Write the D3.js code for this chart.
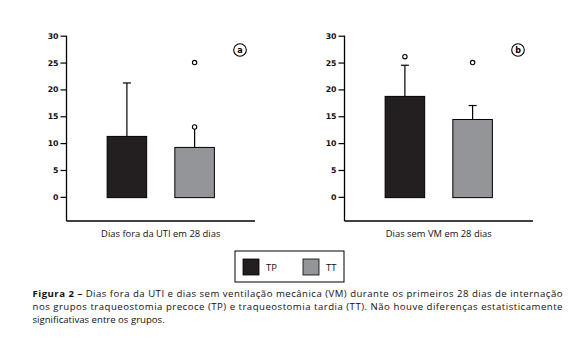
<!DOCTYPE html>
<html><head><meta charset="utf-8">
<script src="https://cdn.jsdelivr.net/npm/d3@7"></script>
<style>
body{margin:0;background:#fff;}
svg{display:block;}
</style></head>
<body>
<svg id="chart" width="585" height="360"></svg>
<script>
// ---- data ----
const groups = ["TP", "TT"];
const groupColors = ["#231f20", "#939598"];
const panelTitles = ["Dias fora da UTI em 28 dias", "Dias sem VM em 28 dias"];
const panelTags = ["a", "b"];
const yTicks = [0, 5, 10, 15, 20, 25, 30];
const meansA = [11.25, 9.2];
const errTopA = [21.2, 13.0];
const capsA = [true, false];
const outliersA = [[], [25, 13]];
const meansB = [18.7, 14.4];
const errTopB = [24.5, 17.0];
const capsB = [true, true];
const outliersB = [[26.1], [25]];
const captionBold = "Figura 2 – ";
const captionLines = [
  "Dias fora da UTI e dias sem ventilação mecânica (VM) durante os primeiros 28 dias de internação",
  "nos grupos traqueostomia precoce (TP) e traqueostomia tardia (TT). Não houve diferenças estatisticamente",
  "significativas entre os grupos."
];

const panels = [
  {title: panelTitles[0], tag: panelTags[0], means: meansA, err: errTopA, caps: capsA, outliers: outliersA, x0: 66.5, x1: 255},
  {title: panelTitles[1], tag: panelTags[1], means: meansB, err: errTopB, caps: capsB, outliers: outliersB, x0: 344.5, x1: 533}
];

const svg = d3.select("#chart");
const y = d3.scaleLinear().domain([-4.5, 30]).range([221, 35.7]);
const tickFont = "'DejaVu Sans', sans-serif";
const textFont = "'Open Sans', sans-serif";

panels.forEach(p => {
  const g = svg.append("g");
  const x = d3.scaleBand().domain(groups).range([p.x0, p.x1]).paddingInner(0.416).paddingOuter(0.6);
  const ax = g.append("g").attr("transform", `translate(${p.x0},0)`)
    .call(d3.axisLeft(y).tickValues(yTicks).tickSize(6).tickPadding(2).tickFormat(d3.format("d")));
  ax.select(".domain").attr("d", `M0,${y(30)}V${y(-4.5)}`).attr("stroke", "#000").attr("stroke-width", 1.3);
  ax.selectAll(".tick line").attr("stroke", "#000").attr("stroke-width", 1.2);
  ax.selectAll(".tick text").attr("font-family", tickFont).attr("font-weight", "bold").attr("font-size", 7.8).attr("fill", "#111");
  g.append("line").attr("x1", p.x0).attr("x2", p.x1).attr("y1", y(-4.5)).attr("y2", y(-4.5))
    .attr("stroke", "#000").attr("stroke-width", 1.3);
  groups.forEach((gr, i) => {
    const cx = x(gr) + x.bandwidth() / 2;
    g.append("line").attr("x1", cx).attr("x2", cx).attr("y1", y(p.means[i])).attr("y2", y(p.err[i]))
      .attr("stroke", "#000").attr("stroke-width", 1.2);
    if (p.caps[i]) {
      g.append("line").attr("x1", cx - 4).attr("x2", cx + 4).attr("y1", y(p.err[i])).attr("y2", y(p.err[i]))
        .attr("stroke", "#000").attr("stroke-width", 1.2);
    }
  });
  g.selectAll("rect.bar").data(groups).join("rect")
    .attr("x", d => x(d)).attr("width", x.bandwidth())
    .attr("y", (d, i) => y(p.means[i])).attr("height", (d, i) => y(-0.15) - y(p.means[i]))
    .attr("fill", (d, i) => groupColors[i]).attr("stroke", "#000").attr("stroke-width", 1);
  groups.forEach((gr, i) => {
    const cx = x(gr) + x.bandwidth() / 2;
    p.outliers[i].forEach(v => {
      g.append("circle").attr("cx", cx).attr("cy", y(v)).attr("r", 2.2)
        .attr("fill", "#fff").attr("stroke", "#000").attr("stroke-width", 1.1);
    });
  });
  const tx = p.x1 - 15, ty = 50;
  g.append("circle").attr("cx", tx).attr("cy", ty).attr("r", 6.3).attr("fill", "#fff").attr("stroke", "#000").attr("stroke-width", 1.1);
  g.append("text").attr("x", tx).attr("y", ty + 2.8).attr("text-anchor", "middle")
    .attr("font-family", tickFont).attr("font-weight", "bold").attr("font-size", 8).text(p.tag);
  g.append("text").attr("x", (p.x0 + p.x1) / 2).attr("y", 237).attr("text-anchor", "middle")
    .attr("font-family", textFont).attr("font-size", 9.4).attr("fill", "#111").text(p.title);
});

// legend
const lg = svg.append("g");
lg.append("rect").attr("x", 235).attr("y", 251).attr("width", 109).attr("height", 31)
  .attr("fill", "#fff").attr("stroke", "#000").attr("stroke-width", 1);
const legX = [243, 303];
groups.forEach((gr, i) => {
  lg.append("rect").attr("x", legX[i]).attr("y", 259).attr("width", 16).attr("height", 16)
    .attr("fill", groupColors[i]).attr("stroke", "#000").attr("stroke-width", 0.8);
  lg.append("text").attr("x", legX[i] + 23).attr("y", 271).attr("font-family", textFont)
    .attr("font-size", 9.5).attr("fill", "#111").text(gr);
});

// caption
const cap = svg.append("g").attr("font-family", textFont).attr("font-size", 9.6).attr("fill", "#111");
const l1 = cap.append("text").attr("x", 32.5).attr("y", 297).attr("textLength", 530).attr("lengthAdjust", "spacing");
l1.append("tspan").attr("font-weight", "bold").text(captionBold);
l1.append("tspan").text(captionLines[0]);
cap.append("text").attr("x", 32.5).attr("y", 310).attr("textLength", 530).attr("lengthAdjust", "spacing").text(captionLines[1]);
cap.append("text").attr("x", 32.5).attr("y", 323).text(captionLines[2]);
</script>
</body></html>
